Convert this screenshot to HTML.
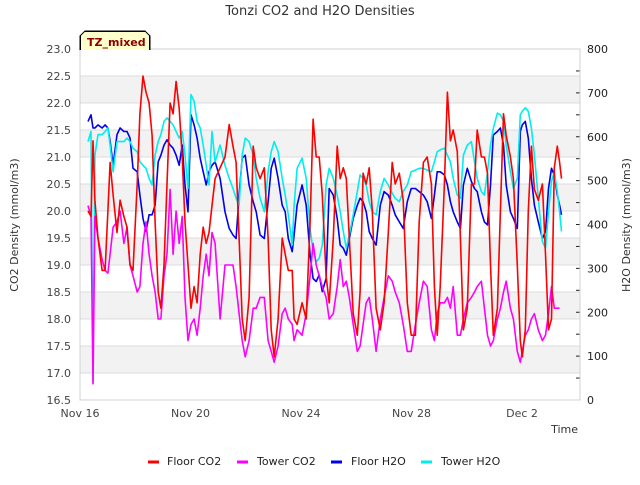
<!DOCTYPE html>
<html><head><meta charset="utf-8"><style>
body{margin:0;background:#fff;width:640px;height:480px;overflow:hidden;font-family:"Liberation Sans","DejaVu Sans",sans-serif}
svg text{font-family:"DejaVu Sans","Liberation Sans",sans-serif}
</style></head><body>
<svg id="chart" width="640" height="480" xmlns="http://www.w3.org/2000/svg"></svg>
<script>
const days=[0.29,0.40,0.47,0.54,0.65,0.80,0.91,1.01,1.09,1.20,1.34,1.45,1.59,1.70,1.81,1.92,2.07,2.17,2.28,2.39,2.50,2.61,2.72,2.83,2.93,3.04,3.15,3.26,3.37,3.48,3.59,3.70,3.80,3.91,4.02,4.13,4.24,4.35,4.46,4.57,4.67,4.78,4.89,5.07,5.25,5.40,5.54,5.65,5.76,5.87,5.98,6.12,6.27,6.38,6.52,6.67,6.81,6.92,7.03,7.17,7.32,7.43,7.54,7.68,7.75,7.86,8.04,8.19,8.33,8.44,8.55,8.66,8.77,8.91,9.02,9.17,9.31,9.42,9.53,9.64,9.75,9.89,10.04,10.14,10.25,10.36,10.47,10.58,10.72,10.87,11.01,11.16,11.30,11.41,11.56,11.70,11.85,11.99,12.14,12.28,12.43,12.57,12.72,12.83,12.93,13.04,13.19,13.30,13.41,13.51,13.66,13.77,13.88,14.02,14.17,14.28,14.38,14.53,14.64,14.75,14.86,14.96,15.11,15.22,15.33,15.43,15.58,15.69,15.83,15.94,16.01,16.12,16.23,16.34,16.45,16.59,16.74,16.85,16.96,17.07,17.17,17.28,17.36,17.43];
const floorCO2=[20.0,19.9,21.3,20.2,19.5,18.9,18.9,20.0,20.9,20.3,19.6,20.2,19.9,19.7,19.0,18.9,20.5,21.8,22.5,22.2,22.0,21.4,19.8,18.5,18.2,19.0,20.5,22.0,21.8,22.4,21.9,21.0,19.8,19.0,18.2,18.6,18.3,19.2,19.7,19.4,19.6,20.1,20.6,20.8,21.0,21.6,21.2,20.9,19.5,18.0,17.6,18.4,21.2,20.8,20.6,20.8,19.5,17.8,17.3,18.0,19.5,19.2,18.9,18.9,18.0,17.9,18.3,18.0,19.8,21.7,21.0,21.0,20.3,18.8,18.3,19.5,21.2,20.6,20.8,20.6,19.5,18.1,17.7,18.5,20.7,20.5,20.8,20.0,18.2,17.8,18.3,19.6,20.9,20.5,20.7,20.2,18.3,17.7,17.7,19.8,20.9,21.0,20.5,18.6,17.7,18.6,20.5,22.2,21.3,21.5,21.1,19.5,17.8,18.2,20.5,20.5,21.5,21.0,21.0,20.7,19.0,17.7,18.2,20.0,21.8,21.4,21.0,20.6,19.0,17.6,17.3,17.8,20.0,21.2,20.4,20.2,20.5,19.2,17.8,18.0,20.8,21.2,20.9,20.6];
const towerCO2=[20.1,19.9,16.8,19.9,19.5,19.1,18.9,18.85,19.2,19.7,19.8,20.0,19.4,19.7,19.0,18.8,18.5,18.6,19.4,19.8,19.2,18.8,18.5,18.0,18.0,18.8,19.2,20.4,19.2,20.0,19.4,19.9,18.4,17.6,17.9,18.0,17.7,18.2,18.8,19.2,18.8,19.6,19.4,18.0,19.0,19.0,19.0,18.6,18.1,17.6,17.3,17.6,18.2,18.2,18.4,18.4,17.6,17.4,17.2,17.5,18.1,18.2,18.0,17.9,17.6,17.8,17.7,18.1,18.8,19.4,19.0,18.8,18.6,18.4,18.0,18.1,18.6,19.1,18.6,18.7,18.4,17.9,17.4,17.5,17.9,18.3,18.4,18.0,17.4,18.0,18.4,18.8,18.7,18.5,18.3,17.9,17.4,17.4,17.9,18.3,18.7,18.6,17.8,17.6,18.1,18.3,18.3,18.4,18.2,18.6,17.7,17.7,18.0,18.3,18.4,18.5,18.6,18.7,18.2,17.7,17.5,17.6,18.0,18.2,18.5,18.7,18.2,18.0,17.4,17.2,17.4,17.7,17.8,18.0,18.1,17.8,17.6,17.7,18.1,18.6,18.2,18.2,18.2];
const floorH2O=[635,650,620,620,627,620,627,620,590,535,605,620,612,612,597,528,520,467,414,384,422,422,444,543,558,581,593,581,574,558,535,581,490,429,650,627,597,551,520,490,520,535,543,505,429,391,376,368,467,551,558,490,452,429,376,368,452,528,551,505,444,429,368,338,376,444,490,444,330,277,270,285,247,277,482,467,414,353,346,330,368,414,444,460,452,429,384,368,353,444,475,467,444,422,406,391,452,482,482,475,467,452,414,467,520,520,513,490,452,429,406,391,490,528,498,482,475,429,406,399,490,604,612,620,581,490,429,414,391,612,627,635,597,505,444,406,368,384,482,528,513,467,444,422];
const towerH2O=[589,612,41,558,605,605,612,620,581,520,589,589,589,597,589,574,566,543,535,528,505,490,558,589,605,635,643,635,627,612,597,612,558,482,696,681,635,620,581,535,490,612,543,581,535,505,482,460,444,558,597,589,558,505,460,429,520,566,589,566,505,467,422,353,444,528,551,505,391,338,315,323,353,490,528,505,467,429,384,346,376,422,475,513,505,490,452,429,422,475,505,490,471,460,452,475,490,520,524,528,528,524,520,543,566,570,574,558,543,505,467,460,558,581,589,543,505,475,467,520,581,619,654,650,635,581,520,482,505,650,658,666,658,619,558,460,361,346,429,498,520,475,429,384];
const leftTicks=["16.5","17.0","17.5","18.0","18.5","19.0","19.5","20.0","20.5","21.0","21.5","22.0","22.5","23.0"];
const rightTicks=[0,100,200,300,400,500,600,700,800];
const xTickDays=[0,4,8,12,16];
const xTickLabels=["Nov 16","Nov 20","Nov 24","Nov 28","Dec 2"];

const L=80,R=580,T=49,B=400;
const xs=d=>L+d*(R-L)/18.1;
const yl=v=>B-(v-16.5)*(B-T)/6.5;
const yr=v=>B-v*(B-T)/800;
const svg=document.getElementById('chart');
const NS='http://www.w3.org/2000/svg';
function mk(tag,attrs,parent){const e=document.createElementNS(NS,tag);for(const k in attrs)e.setAttribute(k,attrs[k]);(parent||svg).appendChild(e);return e;}

// bands and grid
for(let i=0;i<13;i++){
  const v0=16.5+i*0.5;
  if(i%2==1){const b=mk('rect',{x:L,y:yl(v0+0.5),width:R-L,height:yl(v0)-yl(v0+0.5),fill:'#f2f2f2'});
  
  }
}
leftTicks.forEach(t=>{const v=parseFloat(t);const y=yl(v);
  const g=mk('line',{x1:L,x2:R,y1:y,y2:y,stroke:'#dcdcdc','stroke-width':1});
  
  
  const tx=mk('text',{x:71,y:y+4,'text-anchor':'end','font-size':11,fill:'#444'});tx.textContent=t;
  
  
});
rightTicks.forEach(v=>{const y=yr(v);
  const tx=mk('text',{x:587,y:y+4,'font-size':11,fill:'#222'});tx.textContent=v;
  
  
});
for(let v=50;v<800;v+=50){const y=yr(v);
  const tk=mk('line',{x1:576,x2:580,y1:y,y2:y,stroke:'#222','stroke-width':1});
  
  
}
xTickDays.forEach((d,i)=>{
  const tx=mk('text',{x:xs(d),y:417,'text-anchor':'middle','font-size':11,fill:'#444'});tx.textContent=xTickLabels[i];
  
  
});
const fr=mk('rect',{x:L,y:T,width:R-L,height:B-T,fill:'none',stroke:'#d0d0d0','stroke-width':1});



function series(vals,yf,color,name){
  const pts=vals.map((v,i)=>xs(days[i]).toFixed(1)+','+yf(v).toFixed(1)).join(' ');
  const p=mk('polyline',{points:pts,fill:'none',stroke:color,'stroke-width':1.6,'stroke-linejoin':'round'});
  
  
}
series(floorH2O,yr,'#0000ee','floor-h2o-line');
series(towerH2O,yr,'#00eeee','tower-h2o-line');
series(towerCO2,yl,'#ff00ff','tower-co2-line');
series(floorCO2,yl,'#ff0000','floor-co2-line');
</script>
<div style="position:absolute;left:80px;top:31px;width:70px;height:19px;box-sizing:border-box;background:#ffffcc;border:1px solid #000;border-bottom:none;clip-path:polygon(5px 0,65px 0,70px 5px,70px 19px,0 19px,0 5px);"></div>
<svg style="position:absolute;left:0;top:0" width="640" height="480">
<polyline points="80,50 80,36 85,31 145,31 150,36 150,50" fill="none" stroke="#000" stroke-width="1"/>
<text x="87" y="46" font-size="11" font-weight="bold" fill="#8b0000">TZ_mixed</text>
<text x="320" y="15" text-anchor="middle" font-size="13" fill="#333">Tonzi CO2 and H2O Densities</text>
<text transform="translate(18,225) rotate(-90)" text-anchor="middle" font-size="11" fill="#333">CO2 Density (mmol/m3)</text>
<text transform="translate(630,225) rotate(-90)" text-anchor="middle" font-size="11" fill="#333">H2O Density (mmol/m3)</text>
<text x="578" y="433" text-anchor="end" font-size="11" fill="#333">Time</text>
<g font-size="11" fill="#222">
<line x1="148" x2="159" y1="462" y2="462" stroke="#ff0000" stroke-width="3"/>
<text x="167" y="465">Floor CO2</text>
<line x1="237" x2="248" y1="462" y2="462" stroke="#ff00ff" stroke-width="3"/>
<text x="257" y="465">Tower CO2</text>
<line x1="331" x2="342" y1="462" y2="462" stroke="#0000ee" stroke-width="3"/>
<text x="351" y="465">Floor H2O</text>
<line x1="421" x2="432" y1="462" y2="462" stroke="#00eeee" stroke-width="3"/>
<text x="441" y="465">Tower H2O</text>
</g>
</svg>
</body></html>
